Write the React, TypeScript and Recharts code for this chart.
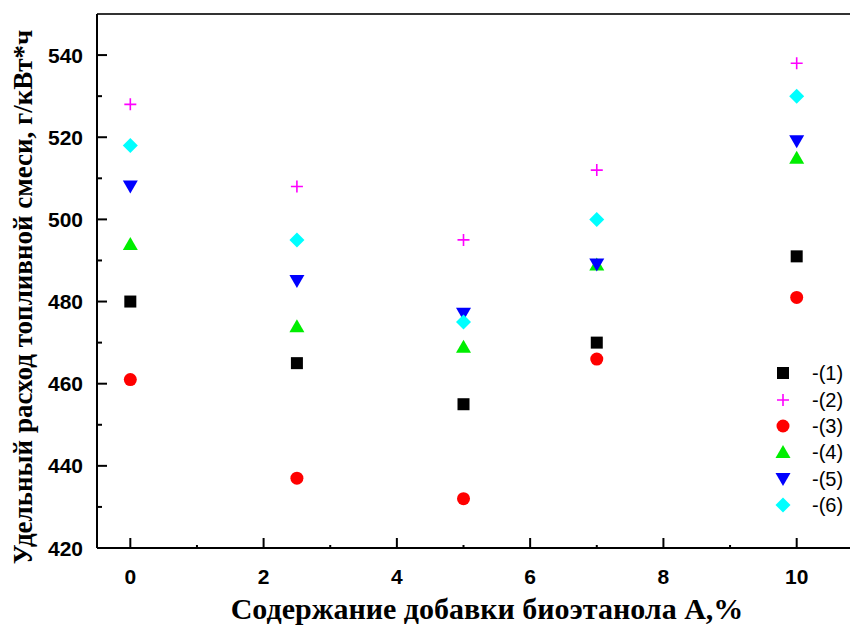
import React from "react";
import { ScatterChart, Scatter, XAxis, YAxis, ReferenceLine } from "recharts";

// Удельный расход топливной смеси vs содержание биоэтанола, six series, markers only.

const additive = [0, 2.5, 5, 7, 10];
const series1 = [480, 465, 455, 470, 491];
const series2 = [528, 508, 495, 512, 538];
const series3 = [461, 437, 432, 466, 481];
const series4 = [494, 474, 469, 489, 515];
const series5 = [508, 485, 477, 489, 519];
const series6 = [518, 495, 475, 500, 530];

const seriesNames = ["-(1)", "-(2)", "-(3)", "-(4)", "-(5)", "-(6)"];
const xTicks = [0, 1, 2, 3, 4, 5, 6, 7, 8, 9, 10];
const yTicks = [420, 430, 440, 450, 460, 470, 480, 490, 500, 510, 520, 530, 540];

const toPoints = (ys: number[]) => additive.map((x, i) => ({ x, y: ys[i] }));

const W = 850;
const H = 626;
const tickFont = "'Liberation Sans', Arial, sans-serif";
const titleFont = "'Liberation Serif', 'Times New Roman', serif";

type Kind = "square" | "plus" | "circle" | "up" | "down" | "diamond";

function Marker({ kind, cx, cy, color }: { kind: Kind; cx: number; cy: number; color: string }) {
  switch (kind) {
    case "square":
      return <rect x={cx - 6} y={cy - 6} width={12} height={12} fill={color} />;
    case "plus":
      return (
        <path d={`M${cx - 6},${cy}H${cx + 6}M${cx},${cy - 6}V${cy + 6}`} stroke={color} strokeWidth={1.6} fill="none" />
      );
    case "circle":
      return <circle cx={cx} cy={cy} r={6.5} fill={color} />;
    case "up":
      return <path d={`M${cx},${cy - 7}L${cx + 7.5},${cy + 6}L${cx - 7.5},${cy + 6}Z`} fill={color} />;
    case "down":
      return <path d={`M${cx},${cy + 7}L${cx + 7.5},${cy - 6}L${cx - 7.5},${cy - 6}Z`} fill={color} />;
    case "diamond":
      return <path d={`M${cx},${cy - 7.5}L${cx + 7.5},${cy}L${cx},${cy + 7.5}L${cx - 7.5},${cy}Z`} fill={color} />;
  }
  return null;
}

const styles: { kind: Kind; color: string; data: number[] }[] = [
  { kind: "square", color: "#000000", data: series1 },
  { kind: "plus", color: "#ff00ff", data: series2 },
  { kind: "circle", color: "#ff0000", data: series3 },
  { kind: "up", color: "#00ee00", data: series4 },
  { kind: "down", color: "#0000ff", data: series5 },
  { kind: "diamond", color: "#00ffff", data: series6 },
];

// inward ticks, minor ones shorter; labels only on major
const XTick = (props: any) => {
  const { x, y, payload } = props;
  const axisY = y - 10;
  const major = payload.value % 2 === 0;
  return (
    <g>
      <line x1={x} x2={x} y1={axisY} y2={axisY - (major ? 10 : 3)} stroke="#000" strokeWidth={2} />
      {major && (
        <text x={x} y={axisY + 36} textAnchor="middle" fontFamily={tickFont} fontWeight="bold" fontSize={21} fill="#000">
          {payload.value}
        </text>
      )}
    </g>
  );
};

const YTick = (props: any) => {
  const { x, y, payload } = props;
  const axisX = x + 14;
  const major = payload.value % 20 === 0;
  return (
    <g>
      <line x1={axisX} x2={axisX + (major ? 10 : 5)} y1={y} y2={y} stroke="#000" strokeWidth={2} />
      {major && (
        <text x={x} y={y + 7.5} textAnchor="end" fontFamily={tickFont} fontWeight="bold" fontSize={21} fill="#000">
          {payload.value}
        </text>
      )}
    </g>
  );
};

function LegendBox() {
  return (
    <div style={{ position: "absolute", left: 770, top: 360, fontFamily: tickFont, fontSize: 20, color: "#000", lineHeight: 1 }}>
      {styles.map((s, i) => (
        <div key={i} style={{ display: "flex", alignItems: "center", height: 26.4 }}>
          <svg width={26} height={20}>
            <Marker kind={s.kind} cx={13} cy={10} color={s.color} />
          </svg>
          <span style={{ marginLeft: 16 }}>{seriesNames[i]}</span>
        </div>
      ))}
    </div>
  );
}

export default function App() {
  return (
    <div style={{ position: "absolute", left: 0, top: 0, width: W, height: H, background: "#fff" }}>
      <ScatterChart width={W} height={H} margin={{ top: 14, right: 0, bottom: 0, left: 0 }}>
        <XAxis
          type="number" dataKey="x" domain={[-0.5, 10.8]} ticks={xTicks} allowDataOverflow
          height={78} tickSize={0} tickMargin={10} tickLine={false} tick={<XTick />}
          axisLine={{ stroke: "#000", strokeWidth: 2 }}
          label={{
            content: () => (
              <text x={487} y={619} textAnchor="middle"
                fontFamily={titleFont} fontWeight="bold" fontSize={30} fill="#000">
                Содержание добавки биоэтанола А,%
              </text>
            ),
          }}
        />
        <YAxis
          type="number" dataKey="y" domain={[420, 550]} ticks={yTicks} allowDataOverflow
          width={97} tickSize={0} tickMargin={14} tickLine={false} tick={<YTick />}
          axisLine={{ stroke: "#000", strokeWidth: 2 }}
          label={{
            content: () => (
              <text x={32} y={297} transform="rotate(-90 32 297)" textAnchor="middle"
                fontFamily={titleFont} fontWeight="bold" fontSize={27} fill="#000">
                Удельный расход топливной смеси, г/кВт*ч
              </text>
            ),
          }}
        />
        <ReferenceLine y={550} stroke="#333" strokeWidth={2} />
        {styles.map((s, i) => (
          <Scatter
            key={i}
            name={seriesNames[i]}
            data={toPoints(s.data)}
            isAnimationActive={false}
            shape={(p: any) => <Marker kind={s.kind} cx={p.cx} cy={p.cy} color={s.color} />}
          />
        ))}
      </ScatterChart>
      <LegendBox />
    </div>
  );
}
